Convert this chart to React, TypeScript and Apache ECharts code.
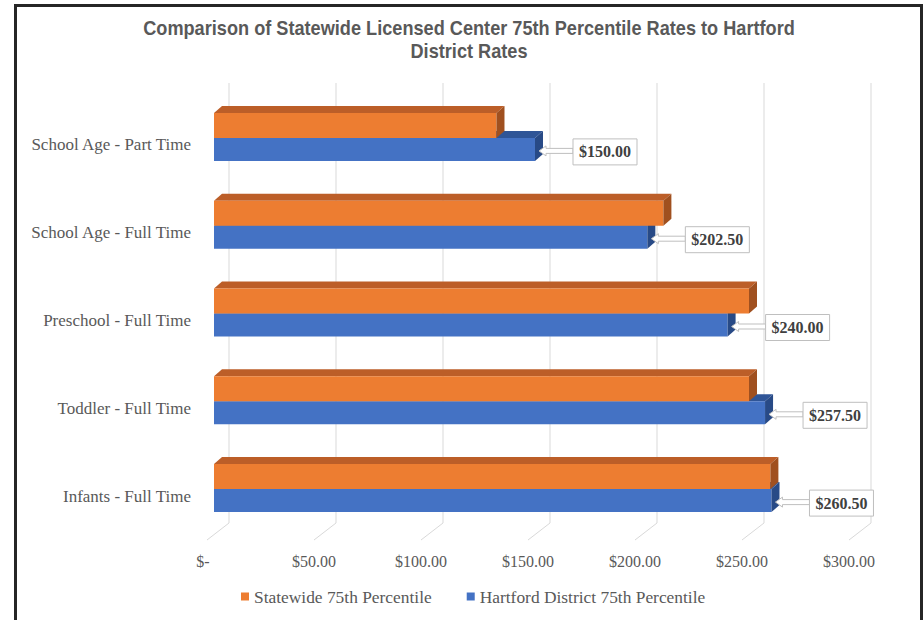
import React, { useEffect, useRef } from "react";
import * as echarts from "echarts";

const categories = [
  "School Age - Part Time",
  "School Age - Full Time",
  "Preschool - Full Time",
  "Toddler - Full Time",
  "Infants - Full Time",
];
const statewide = [132, 210, 250, 250, 260];
const hartford = [150, 202.5, 240, 257.5, 260.5];
const xTicks = [0, 50, 100, 150, 200, 250, 300];
const seriesNames = ["Statewide 75th Percentile", "Hartford District 75th Percentile"];
const titleLines = [
  "Comparison of Statewide Licensed Center 75th Percentile Rates to Hartford",
  "District Rates",
];

const SERIF = '"Liberation Serif", "Times New Roman", serif';
const SANS = '"Liberation Sans", Arial, sans-serif';

const FRONT_DX = 7;
const DEPTH_X = 8;
const DEPTH_Y = 7;

const ORANGE = { front: "#ED7D31", top: "#BC5E28", side: "#A0501F" };
const BLUE = { front: "#4472C4", top: "#2F5597", side: "#284A86" };

function fmtMoney(v: number) {
  return "$" + v.toFixed(2);
}

function makeBarRender(colors: any, topOff: number, botOff: number, withLabel: boolean) {
  return (params: any, api: any) => {
    const v = api.value(0);
    const c = api.value(1);
    const end = api.coord([v, c]);
    const start = api.coord([0, c]);
    const yc = end[1];
    const x0 = start[0] + FRONT_DX;
    const x1 = end[0] + FRONT_DX;
    const yT = yc + topOff;
    const yB = yc + botOff;
    const children: any[] = [
      {
        type: "polygon",
        shape: { points: [[x0, yT], [x0 + DEPTH_X, yT - DEPTH_Y], [x1 + DEPTH_X, yT - DEPTH_Y], [x1, yT]] },
        style: { fill: colors.top },
      },
      {
        type: "rect",
        shape: { x: x0, y: yT, width: x1 - x0, height: yB - yT },
        style: { fill: colors.front },
      },
      {
        type: "polygon",
        shape: { points: [[x1, yT], [x1 + DEPTH_X, yT - DEPTH_Y], [x1 + DEPTH_X, yB - DEPTH_Y], [x1, yB]] },
        style: { fill: colors.side },
      },
    ];
    if (withLabel) {
      const tip = x1 + 4;
      const cy = yc + 6;
      const boxL = tip + 34;
      const bw = 64;
      const bh = 26;
      children.push({
        type: "polygon",
        shape: {
          points: [
            [tip, cy],
            [tip + 7, cy - 5],
            [tip + 7, cy - 2.5],
            [boxL, cy - 2.5],
            [boxL, cy + 2.5],
            [tip + 7, cy + 2.5],
            [tip + 7, cy + 5],
          ],
        },
        style: { fill: "#ffffff", stroke: "#bfbfbf", lineWidth: 1 },
      });
      children.push({
        type: "rect",
        shape: { x: boxL, y: cy + 1 - bh / 2, width: bw, height: bh },
        style: { fill: "#ffffff", stroke: "#bfbfbf", lineWidth: 1 },
      });
      children.push({
        type: "text",
        x: boxL + bw / 2,
        y: cy + 1,
        style: {
          text: fmtMoney(v),
          align: "center",
          verticalAlign: "middle",
          font: `bold 16px ${SERIF}`,
          fill: "#404040",
        },
      });
    }
    return { type: "group", children };
  };
}

function gridRender(params: any, api: any) {
  const x = api.coord([api.value(0), 0])[0];
  const cs = params.coordSys;
  const bottom = cs.y + cs.height;
  return {
    type: "polyline",
    shape: { points: [[x + 22, cs.y - 18], [x + 22, bottom - 17], [x, bottom]] },
    style: { stroke: "#d9d9d9", lineWidth: 1, fill: "none" },
    silent: true,
  };
}

export default function App() {
  const ref = useRef<HTMLDivElement>(null);
  useEffect(() => {
    if (!ref.current) return;
    const chart = echarts.init(ref.current, null, { renderer: "svg" });

    const titleFont = `bold 20px ${SANS}`;
    let scaleX = 0.82;
    try {
      const ctx = document.createElement("canvas").getContext("2d");
      if (ctx) {
        ctx.font = titleFont;
        const w = ctx.measureText(titleLines[0]).width;
        if (w > 0) scaleX = 652 / w;
      }
    } catch (e) {}

    chart.setOption({
      animation: false,
      backgroundColor: "#ffffff",
      grid: { left: 207, top: 101, width: 642, height: 439, containLabel: false },
      xAxis: {
        type: "value",
        min: 0,
        max: 300,
        interval: 50,
        axisLine: { show: false },
        axisTick: { show: false },
        splitLine: { show: false },
        axisLabel: {
          margin: 13,
          color: "#595959",
          fontFamily: SERIF,
          fontSize: 16,
          formatter: (v: number) => (v === 0 ? "{z|$-}" : fmtMoney(v)),
          rich: {
            z: { color: "#595959", fontFamily: SERIF, fontSize: 16, padding: [0, 8, 0, 0] },
          },
        },
      },
      yAxis: {
        type: "category",
        data: categories,
        inverse: true,
        axisLine: { show: false },
        axisTick: { show: false },
        splitLine: { show: false },
        axisLabel: { margin: 16, color: "#595959", fontFamily: SERIF, fontSize: 17 },
      },
      legend: {
        data: seriesNames,
        left: 241,
        top: 588,
        padding: 0,
        itemWidth: 8,
        itemHeight: 8,
        itemGap: 35,
        icon: "rect",
        textStyle: { color: "#595959", fontFamily: SERIF, fontSize: 17.4 },
      },
      series: [
        {
          type: "custom",
          name: "grid",
          data: xTicks.map((v) => [v, 0]),
          encode: { x: 0, y: 1 },
          renderItem: gridRender,
          silent: true,
          z: 1,
        },
        {
          type: "custom",
          name: seriesNames[1],
          data: hartford.map((v, i) => [v, i]),
          encode: { x: 0, y: 1 },
          itemStyle: { color: BLUE.front },
          renderItem: makeBarRender(BLUE, -7, 16, true),
          z: 2,
        },
        {
          type: "custom",
          name: seriesNames[0],
          data: statewide.map((v, i) => [v, i]),
          encode: { x: 0, y: 1 },
          itemStyle: { color: ORANGE.front },
          renderItem: makeBarRender(ORANGE, -32, -7, false),
          z: 3,
        },
      ],
      graphic: [
        {
          type: "rect",
          shape: { x: 15.5, y: 5.5, width: 906, height: 700 },
          style: { fill: "none", stroke: "#262626", lineWidth: 3 },
          silent: true,
          z: 100,
        },
        {
          type: "text",
          x: 469,
          y: 16.5,
          scaleX: scaleX,
          style: {
            text: titleLines.join("\n"),
            align: "center",
            verticalAlign: "top",
            font: titleFont,
            lineHeight: 23,
            fill: "#595959",
          },
        },
      ],
    });
    return () => chart.dispose();
  }, []);
  return (
    <div
      ref={ref}
      style={{ position: "fixed", left: 0, top: 0, width: 924, height: 620, background: "#fff" }}
    />
  );
}
